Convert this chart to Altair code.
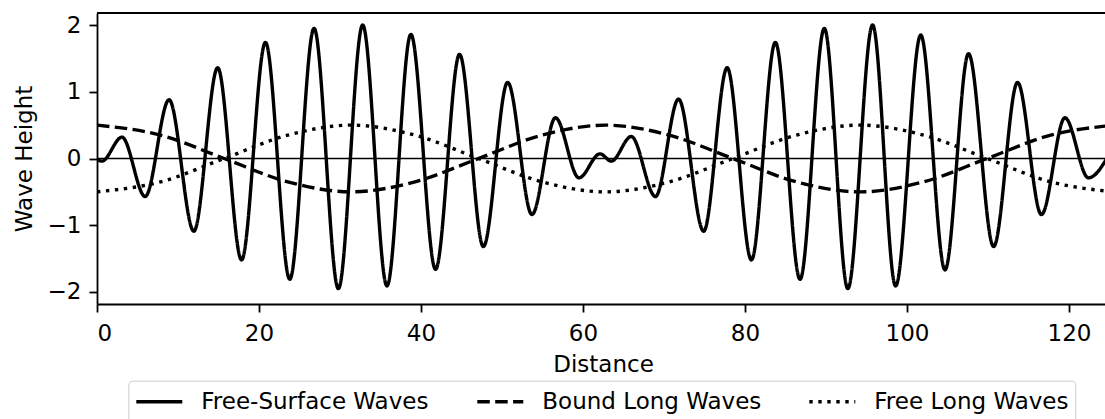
import altair as alt
import pandas as pd

# ---- data ----
series_names = ["Free-Surface Waves", "Bound Long Waves", "Free Long Waves"]

# free-surface wave group: extrema positions and heights
fs_x = [0.0, 0.6, 3.08, 5.95, 8.9, 11.96, 14.9, 17.85, 20.8, 23.8,
        26.8, 29.8, 32.8, 35.8, 38.75, 41.8, 44.76, 47.7, 50.7, 53.7,
        56.6, 59.5, 62.1, 63.5, 65.96, 68.95, 71.8, 74.9, 77.8, 80.8,
        83.75, 86.8, 89.8, 92.7, 95.76, 98.6, 101.7, 104.7, 107.6, 110.7,
        113.65, 116.6, 119.5, 122.4, 125.0]
fs_y = [-0.01, -0.04, 0.32, -0.57, 0.88, -1.09, 1.36, -1.52, 1.74, -1.81,
        1.95, -1.95, 2.0, -1.91, 1.86, -1.66, 1.56, -1.32, 1.14, -0.84,
        0.61, -0.29, 0.07, -0.04, 0.33, -0.57, 0.89, -1.09, 1.36, -1.52,
        1.74, -1.81, 1.95, -1.95, 2.0, -1.91, 1.85, -1.67, 1.57, -1.32,
        1.14, -0.84, 0.61, -0.29, 0.07]

# long waves
lw_x = [0.0, 7.85, 15.7, 23.55, 31.4, 39.25, 47.1, 54.95, 62.8,
        70.65, 78.5, 86.35, 94.2, 102.05, 109.9, 117.75, 125.6]
bound_y = [0.5, 0.35, 0.0, -0.35, -0.5, -0.35, 0.0, 0.35, 0.5,
           0.35, 0.0, -0.35, -0.5, -0.35, 0.0, 0.35, 0.5]
free_y = [-0.5, -0.35, 0.0, 0.35, 0.5, 0.35, 0.0, -0.35, -0.5,
          -0.35, 0.0, 0.35, 0.5, 0.35, 0.0, -0.35, -0.5]

x_ticks = [0, 20, 40, 60, 80, 100, 120]
y_ticks = [-2, -1, 0, 1, 2]

rows = []
for xv, yv in zip(fs_x, fs_y):
    rows.append({"x": xv, "y": yv, "series": series_names[0]})
for xv, yv in zip(lw_x, bound_y):
    rows.append({"x": xv, "y": yv, "series": series_names[1]})
for xv, yv in zip(lw_x, free_y):
    rows.append({"x": xv, "y": yv, "series": series_names[2]})
df = pd.DataFrame(rows)
one = pd.DataFrame({"k": [0]})

# ---- styling ----
FONT = "DejaVu Sans"
FS = 23
W, H = 1008, 291
LW = 3.4

x_scale = alt.Scale(domain=[0, 124.45], nice=False, zero=False)
y_scale = alt.Scale(domain=[-2.18, 2.18], nice=False, zero=False)

x_axis = alt.Axis(values=x_ticks, title="Distance", format="d",
                  titleX=506, titleY=67.7, titleBaseline="alphabetic",
                  titleAlign="center", labelPadding=10)
y_axis = alt.Axis(values=y_ticks, title="Wave Height", format="d",
                  labelExpr="replace(datum.label, '-', '\u2212')",
                  titleX=-66, titleY=145.5, titleBaseline="alphabetic",
                  titleAlign="center", titleAngle=-90, labelPadding=8)

lines = alt.Chart(df).mark_line(
    interpolate="monotone", strokeWidth=LW, color="black", clip=True,
    strokeCap="butt"
).encode(
    x=alt.X("x:Q", scale=x_scale, axis=x_axis),
    y=alt.Y("y:Q", scale=y_scale, axis=y_axis),
    detail="series:N",
    strokeDash=alt.StrokeDash(
        "series:N",
        scale=alt.Scale(domain=series_names,
                        range=[[1, 0], [12.5, 5.4], [3.4, 5.6]]),
        sort=series_names,
        legend=alt.Legend(
            orient="none", legendX=31.3, legendY=367.7,
            direction="horizontal", columns=3, title=None,
            symbolType="stroke", symbolSize=2116, symbolStrokeWidth=LW,
            symbolStrokeColor="black", clipHeight=30,
            labelFont=FONT, labelFontSize=FS, labelColor="black",
            labelOffset=17, columnPadding=46, padding=6, labelLimit=0,
            strokeColor="#cccccc", fillColor="white", cornerRadius=4,
        ),
    ),
)

zero_rule = alt.Chart(one).mark_rule(color="black", strokeWidth=1.7).encode(
    y=alt.datum(0, scale=y_scale)
)

top_rule = alt.Chart(one).mark_rule(color="black", strokeWidth=1.8).encode(
    x=alt.value(0), x2=alt.value(W), y=alt.value(0)
)

chart = alt.layer(zero_rule, lines, top_rule).properties(
    width=W, height=H,
    autosize=alt.AutoSizeParams(type="none"),
    padding={"left": 97, "top": 13, "right": 0, "bottom": 115},
).configure_view(stroke=None).configure_axis(
    labelFont=FONT, titleFont=FONT, labelFontSize=FS, titleFontSize=FS,
    labelColor="black", titleColor="black", titleFontWeight="normal",
    domainColor="black", tickColor="black", domainWidth=1.8,
    tickWidth=1.8, tickSize=8, grid=False,
)

chart.save("out.html", embed_options={"renderer": "svg", "actions": False})
